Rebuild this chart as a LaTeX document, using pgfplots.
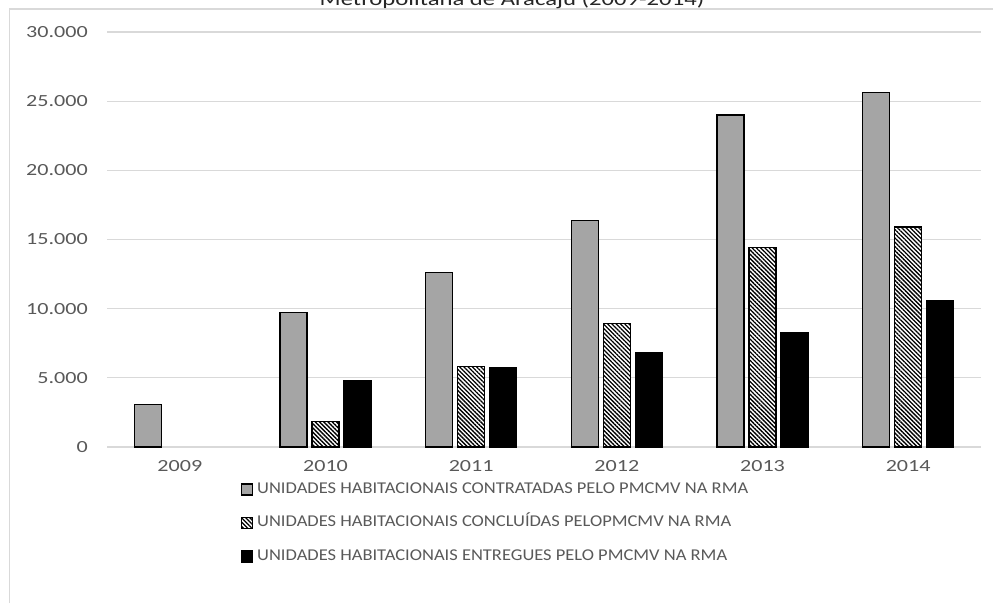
\documentclass[border=0pt]{standalone}
\usepackage{pgfplots}
\pgfplotsset{compat=1.18}
\usepackage{fontspec}
\setmainfont{Carlito}
\newfontfamily\tickfont{Carlito}[FakeStretch=1.3]
\newfontfamily\legfont{Carlito}[FakeStretch=1.12]
\newfontfamily\titlefont{Carlito}[FakeStretch=1.3]
\usetikzlibrary{patterns.meta}
\definecolor{txt}{HTML}{595959}
\definecolor{gridc}{HTML}{D9D9D9}
\definecolor{barg}{HTML}{A5A5A5}
\pgfplotsset{sqleg/.style={legend image code/.code={\draw[##1] (0pt,-5.5pt) rectangle (11pt,5.5pt);}}}
\begin{document}
\begin{tikzpicture}[x=1pt,y=1pt]
\useasboundingbox (0,0) rectangle (993,603);
\draw[gridc, line width=1.2pt] (9.5,0) -- (9.5,594) -- (993,594);
\node[anchor=base, inner sep=0pt, font=\titlefont\fontsize{19}{22}\selectfont, text=black!85] at (512,597) {Metropolitana de Aracaju (2009-2014)};
\begin{axis}[
  at={(107pt,156pt)}, anchor=south west,
  scale only axis, width=874pt, height=415pt,
  xmin=-0.5, xmax=5.5, ymin=0, ymax=30000,
  xtick={0,...,5}, xticklabels={2009,2010,2011,2012,2013,2014},
  ytick={0,5000,...,30000},
  scaled y ticks=false,
  /pgf/number format/assume math mode=true,
  yticklabel style={/pgf/number format/1000 sep={.}},
  axis line style={draw=none}, tick style={draw=none},
  ymajorgrids, major grid style={gridc, line width=1.3pt},
  ticklabel style={font=\tickfont\fontsize{17}{20}\selectfont, text=txt},
  yticklabel style={anchor=east, inner sep=0pt, xshift=-19pt},
  xticklabel style={anchor=north, inner sep=0pt, yshift=-8.5pt},
  ybar, bar width=0.185,
  legend cell align=left,
  legend style={at={(0.1533,-0.0855)}, anchor=north west, draw=none, fill=none,
    inner sep=0pt, outer sep=0pt, row sep=19.5pt,
    font=\legfont\fontsize{16.5}{19}\selectfont, text=txt,
    nodes={inner sep=0pt, text height=11pt, text depth=3pt},
    /tikz/every odd column/.style={column sep=4pt}},
]
\addplot[sqleg, fill=barg, draw=black, line width=1.2pt, bar shift=-0.22]
  coordinates {(0,3100) (1,9700) (2,12600) (3,16400) (4,24000) (5,25600)};
\addplot[sqleg, preaction={fill=white}, pattern={Lines[angle=-45,distance=3pt,line width=1.3pt]}, pattern color=black, draw=black, line width=1.2pt, bar shift=0]
  coordinates {(1,1870) (2,5800) (3,8900) (4,14400) (5,15900)};
\addplot[sqleg, fill=black, draw=black, line width=1.2pt, bar shift=0.22]
  coordinates {(1,4800) (2,5770) (3,6850) (4,8300) (5,10600)};
\legend{UNIDADES HABITACIONAIS CONTRATADAS PELO PMCMV NA RMA, UNIDADES HABITACIONAIS CONCLUÍDAS PELOPMCMV NA RMA, UNIDADES HABITACIONAIS ENTREGUES PELO PMCMV NA RMA}
\end{axis}
\end{tikzpicture}
\end{document}
